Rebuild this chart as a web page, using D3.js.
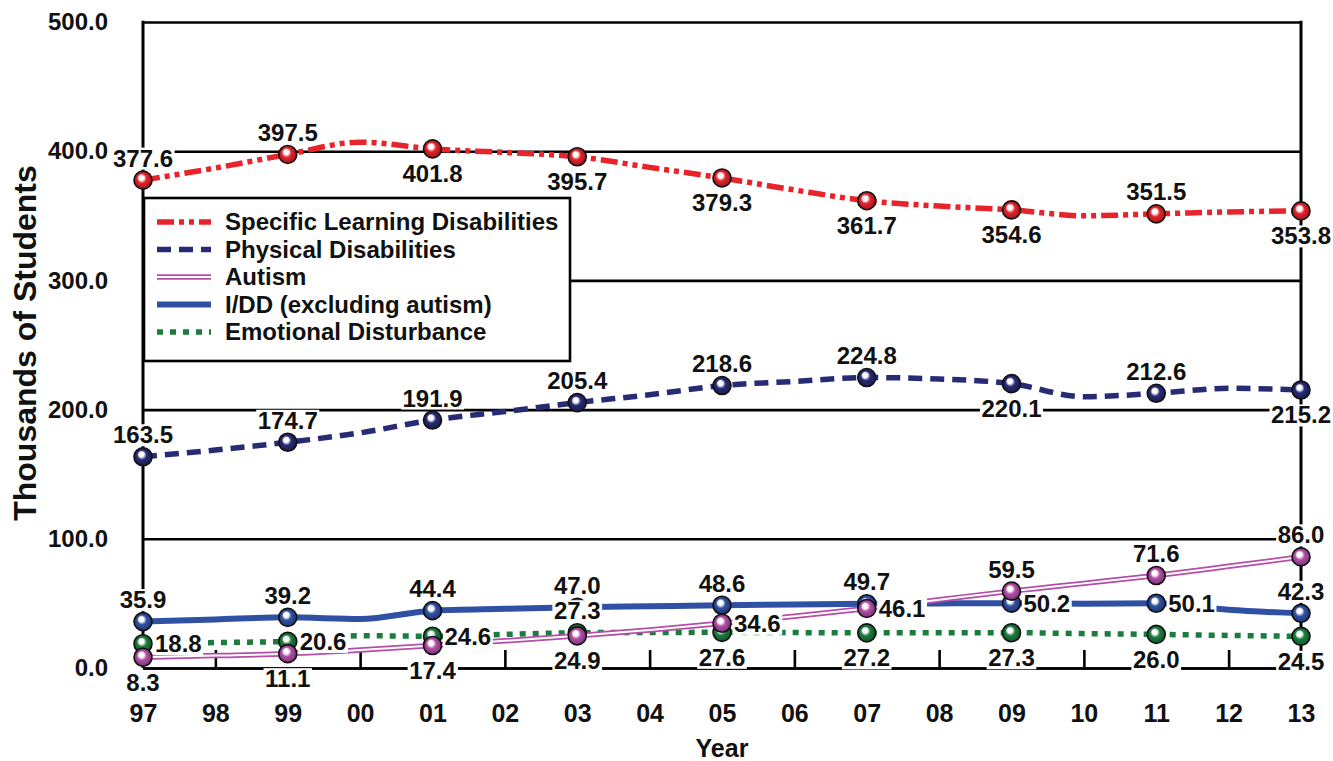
<!DOCTYPE html>
<html>
<head>
<meta charset="utf-8">
<script src="https://cdn.jsdelivr.net/npm/d3@7"></script>
<style>
  body { margin: 0; background: #fff; }
  text { font-family: "Liberation Sans", Arial, sans-serif; font-weight: bold; fill: #111; }
</style>
</head>
<body>
<script>
// chart data (thousands of students)
var years = ['97','98','99','00','01','02','03','04','05','06','07','08','09','10','11','12','13'];
var sld = [377.6, 387.0, 397.5, 407.0, 401.8, 399.0, 395.7, 387.5, 379.3, 370.0, 361.7, 357.5, 354.6, 350.0, 351.5, 353.0, 353.8];
var physical = [163.5, 168.7, 174.7, 182.0, 191.9, 198.5, 205.4, 211.5, 218.6, 221.8, 224.8, 223.7, 220.1, 210.0, 212.6, 216.5, 215.2];
var autism = [8.3, 9.6, 11.1, 13.9, 17.4, 21.0, 24.9, 29.5, 34.6, 40.0, 46.1, 52.8, 59.5, 65.5, 71.6, 78.7, 86.0];
var idd = [35.9, 37.6, 39.2, 38.0, 44.4, 45.8, 47.0, 47.8, 48.6, 49.2, 49.7, 50.0, 50.2, 49.8, 50.1, 45.0, 42.3];
var emotional = [18.8, 19.7, 20.6, 25.0, 24.6, 26.0, 27.3, 27.5, 27.6, 27.4, 27.2, 27.2, 27.3, 26.6, 26.0, 25.2, 24.5];
var yTicks = [0, 100, 200, 300, 400, 500];

// where each value label sits, for the marked (odd) years
var sldLabelPos = ['above','above','below','below','below','below','below','above','below'];
var physicalLabelPos = ['above','above','above','above','above','above','below','above','below'];
var autismLabelPos = ['below','below','below','below','right','right','above','above','above'];
var iddLabelPos = ['above','above','above','above','above','above','right','right','above'];
var emotionalLabelPos = ['right','right','right','above','below','below','below','below','below'];

var series = [
  { name: 'Specific Learning Disabilities', values: sld, labelPos: sldLabelPos, color: '#e8232a', kind: 'dashdot' },
  { name: 'Physical Disabilities', values: physical, labelPos: physicalLabelPos, color: '#272b74', kind: 'dash' },
  { name: 'Autism', values: autism, labelPos: autismLabelPos, color: '#b44ea8', kind: 'double' },
  { name: 'I/DD (excluding autism)', values: idd, labelPos: iddLabelPos, color: '#3050a4', kind: 'solid' },
  { name: 'Emotional Disturbance', values: emotional, labelPos: emotionalLabelPos, color: '#1b7d3d', kind: 'dot' }
];
// drawing order for lines / markers (autism on top)
var drawOrder = [0, 1, 3, 4, 2];

var width = 1333, height = 761;
var plotLeft = 143, plotRight = 1301, plotTop = 22, plotBottom = 668;

var svg = d3.select('body').append('svg')
  .attr('width', width)
  .attr('height', height);

var defs = svg.append('defs');
series.forEach(function(s, i) {
  var g = defs.append('radialGradient')
    .attr('id', 'ball' + i)
    .attr('cx', '50%').attr('cy', '50%').attr('r', '55%')
    .attr('fx', '38%').attr('fy', '32%');
  g.append('stop').attr('offset', '0%').attr('stop-color', '#fff');
  g.append('stop').attr('offset', '25%').attr('stop-color', '#fff');
  g.append('stop').attr('offset', '48%').attr('stop-color', s.color);
  g.append('stop').attr('offset', '100%').attr('stop-color', d3.color(s.color).darker(1.3));
});

var x = d3.scalePoint().domain(years).range([plotLeft, plotRight]);
var y = d3.scaleLinear().domain([0, 500]).range([plotBottom, plotTop]);

// horizontal grid + y tick labels
var yAxis = svg.append('g')
  .attr('transform', 'translate(' + plotLeft + ',0)')
  .call(d3.axisLeft(y).tickValues(yTicks).tickSize(-(plotRight - plotLeft)).tickPadding(35).tickFormat(d3.format('.1f')));
yAxis.select('.domain').remove();
yAxis.selectAll('.tick line').attr('stroke', '#000').attr('stroke-width', 2.6);
yAxis.selectAll('.tick text').style('font-size', '24px').attr('fill', '#111');

// left and right vertical lines
svg.append('line').attr('x1', plotLeft).attr('x2', plotLeft).attr('y1', plotTop - 1.3).attr('y2', plotBottom)
  .attr('stroke', '#000').attr('stroke-width', 3);
svg.append('line').attr('x1', plotRight).attr('x2', plotRight).attr('y1', plotTop - 1.3).attr('y2', plotBottom)
  .attr('stroke', '#000').attr('stroke-width', 3);

// upward ticks on the baseline at even years
var evenYears = years.filter(function(d, i) { return i % 2 === 1; });
var tickAxis = svg.append('g')
  .attr('transform', 'translate(0,' + plotBottom + ')')
  .call(d3.axisTop(x).tickValues(evenYears).tickSize(18).tickSizeOuter(0).tickFormat(''));
tickAxis.select('.domain').attr('stroke', '#000').attr('stroke-width', 2.6);
tickAxis.selectAll('.tick line').attr('stroke', '#000').attr('stroke-width', 2.6);

// x tick labels
var xAxis = svg.append('g')
  .attr('transform', 'translate(0,' + plotBottom + ')')
  .call(d3.axisBottom(x).tickSize(0).tickPadding(36));
xAxis.select('.domain').remove();
xAxis.selectAll('.tick text').style('font-size', '25px').attr('fill', '#111');

// axis titles
svg.append('text')
  .attr('x', 722).attr('y', 757)
  .attr('text-anchor', 'middle')
  .style('font-size', '25px')
  .text('Year');
svg.append('text')
  .attr('transform', 'translate(36,343) rotate(-90)')
  .attr('text-anchor', 'middle')
  .style('font-size', '32px')
  .text('Thousands of Students');

// line styles
function styleLine(sel, s) {
  if (s.kind === 'double') {
    sel.append('path').attr('d', sel.datum()).attr('fill', 'none')
      .attr('stroke', s.color).attr('stroke-width', 5.5);
    sel.append('path').attr('d', sel.datum()).attr('fill', 'none')
      .attr('stroke', '#fff').attr('stroke-width', 2);
    return;
  }
  var p = sel.append('path').attr('d', sel.datum()).attr('fill', 'none')
    .attr('stroke', s.color);
  if (s.kind === 'dashdot') p.attr('stroke-width', 5.5).attr('stroke-dasharray', '17,5,5,5,5,5');
  if (s.kind === 'dash') p.attr('stroke-width', 5.5).attr('stroke-dasharray', '14,8');
  if (s.kind === 'solid') p.attr('stroke-width', 6);
  if (s.kind === 'dot') p.attr('stroke-width', 5.5).attr('stroke-dasharray', '6,7');
}

var line = d3.line()
  .x(function(d, i) { return x(years[i]); })
  .y(function(d) { return y(d); })
  .curve(d3.curveMonotoneX);

var lineLayer = svg.append('g');
drawOrder.forEach(function(k) {
  var s = series[k];
  var g = lineLayer.append('g').datum(line(s.values));
  styleLine(g, s);
});

// markers
var markerLayer = svg.append('g');
drawOrder.forEach(function(k) {
  var s = series[k];
  markerLayer.selectAll(null)
    .data(s.values.filter(function(d, i) { return i % 2 === 0; }))
    .enter()
    .append('circle')
    .attr('cx', function(d, j) { return x(years[j * 2]); })
    .attr('cy', function(d) { return y(d); })
    .attr('r', 9)
    .attr('fill', 'url(#ball' + k + ')')
    .attr('stroke', '#111')
    .attr('stroke-width', 1.6);
});

// value labels with white boxes behind (drawn over the markers)
var labelLayer = svg.append('g');
series.forEach(function(s) {
  s.values.forEach(function(v, i) {
    if (i % 2 !== 0) return;
    var pos = s.labelPos[i / 2];
    var cx = x(years[i]), cy = y(v);
    var tx = cx, ty = cy, anchor = 'middle';
    if (pos === 'above') { ty = cy - 22; }
    if (pos === 'below') { ty = cy + 25; }
    if (pos === 'right') { tx = cx + 12; anchor = 'start'; }
    var g = labelLayer.append('g');
    var t = g.append('text')
      .attr('x', tx).attr('y', ty + 8.5)
      .attr('text-anchor', anchor)
      .style('font-size', '24px')
      .text(d3.format('.1f')(v));
    var b = t.node().getBBox();
    g.insert('rect', 'text')
      .attr('x', b.x - 1.5).attr('y', b.y + 3)
      .attr('width', b.width + 3).attr('height', b.height - 5)
      .attr('fill', '#fff');
  });
});

// legend
var legend = svg.append('g');
legend.append('rect')
  .attr('x', 144).attr('y', 198)
  .attr('width', 426).attr('height', 163)
  .attr('fill', '#fff').attr('stroke', '#000').attr('stroke-width', 2.6);
series.forEach(function(s, i) {
  var ly = 222 + i * 27.5;
  var g = legend.append('g').datum('M157,' + ly + 'H211');
  styleLine(g, s);
  legend.append('text')
    .attr('x', 225).attr('y', ly + 8)
    .style('font-size', '24px')
    .text(s.name);
});
</script>
</body>
</html>
